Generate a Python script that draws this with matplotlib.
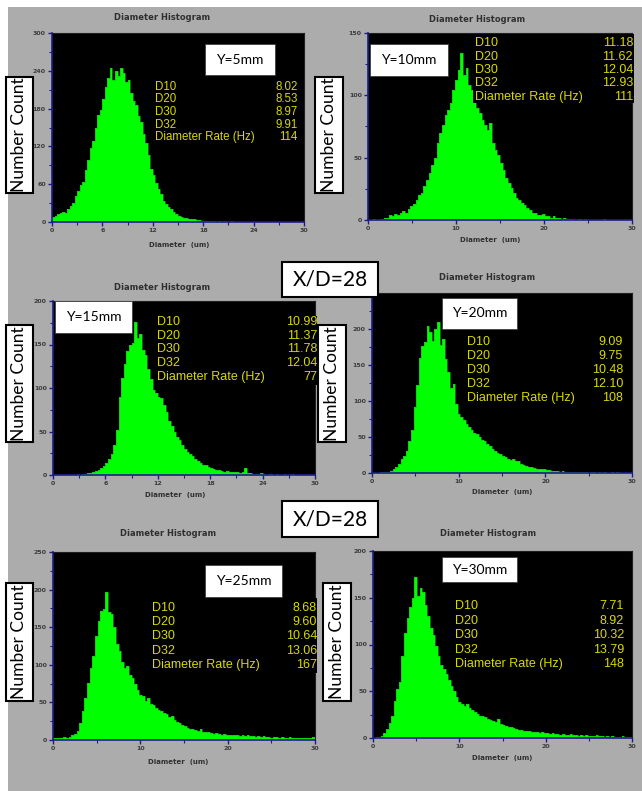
import numpy as np
import matplotlib
matplotlib.use("Agg")
import matplotlib.pyplot as plt
from matplotlib.patches import Rectangle

W, H = 642, 791          # canvas size in pixels (dpi 100)
BIN = 0.3                # diameter bin width (um)
edges = np.arange(0, 30 + BIN / 2, BIN)

# ---- droplet diameter counts per bin, 0..30 um, one list per probe position ----
y5mm = [8, 10, 12, 14, 16, 15, 20, 26, 30, 42,
        50, 58, 64, 82, 98, 118, 128, 150, 170, 178,
        196, 215, 228, 245, 226, 240, 232, 244, 236, 222,
        226, 204, 192, 186, 168, 158, 140, 126, 106, 84,
        74, 62, 52, 44, 34, 28, 24, 20, 16, 12,
        10, 8, 7, 6, 5, 4, 4, 3, 3, 2,
        2, 1, 2, 1, 1, 0, 1, 0, 1, 0,
        0, 1, 0, 0, 0, 0, 0, 0, 0, 0,
        0, 0, 0, 0, 0, 0, 0, 0, 0, 0,
        0, 0, 0, 0, 0, 0, 0, 0, 0, 0]
y10mm = [0, 0, 1, 0, 1, 1, 2, 2, 4, 3,
         5, 4, 6, 7, 6, 9, 11, 13, 16, 20,
         22, 27, 32, 38, 44, 50, 62, 70, 76, 84,
         88, 94, 104, 112, 120, 134, 116, 122, 108, 104,
         96, 90, 86, 80, 76, 72, 78, 62, 56, 52,
         46, 40, 34, 30, 26, 22, 18, 16, 14, 12,
         10, 8, 6, 6, 4, 4, 5, 3, 3, 2,
         3, 2, 2, 1, 2, 1, 1, 1, 0, 1,
         1, 0, 1, 0, 0, 0, 0, 0, 0, 1,
         0, 0, 0, 0, 0, 0, 0, 0, 0, 0]
y15mm = [0, 0, 0, 0, 0, 0, 0, 0, 0, 1,
         0, 1, 1, 2, 2, 3, 5, 6, 8, 10,
         14, 18, 24, 34, 52, 90, 112, 128, 142, 150,
         152, 176, 158, 162, 144, 138, 122, 110, 98, 94,
         90, 88, 80, 72, 62, 56, 50, 44, 40, 34,
         30, 26, 24, 22, 18, 16, 14, 12, 11, 9,
         8, 7, 6, 6, 5, 4, 5, 4, 3, 3,
         3, 2, 3, 8, 2, 2, 1, 1, 1, 2,
         1, 0, 1, 1, 0, 1, 0, 0, 1, 0,
         0, 1, 0, 0, 0, 0, 0, 0, 0, 0]
y20mm = [0, 0, 0, 1, 2, 1, 2, 3, 5, 8,
         12, 20, 24, 30, 44, 60, 92, 122, 160, 176,
         182, 204, 196, 184, 200, 210, 178, 186, 158, 140,
         118, 124, 96, 82, 78, 74, 68, 64, 60, 56,
         54, 50, 46, 44, 40, 38, 34, 30, 28, 26,
         24, 22, 20, 18, 19, 16, 17, 13, 11, 10,
         8, 8, 7, 6, 6, 5, 6, 4, 4, 3,
         3, 3, 2, 3, 2, 2, 2, 1, 2, 1,
         1, 1, 1, 0, 1, 1, 0, 1, 0, 1,
         0, 0, 1, 0, 1, 0, 0, 0, 0, 0]
y25mm = [2, 3, 2, 3, 4, 3, 4, 6, 8, 12,
         22, 38, 56, 76, 96, 112, 138, 158, 172, 174,
         197, 170, 168, 150, 128, 118, 104, 96, 98, 86,
         82, 74, 66, 60, 58, 52, 56, 48, 46, 42,
         40, 38, 36, 34, 30, 32, 26, 24, 22, 20,
         18, 16, 15, 14, 13, 12, 14, 11, 10, 10,
         9, 8, 9, 8, 7, 8, 7, 6, 7, 6,
         6, 5, 6, 5, 6, 5, 5, 4, 5, 4,
         5, 4, 4, 3, 4, 4, 3, 4, 3, 3,
         4, 3, 3, 2, 3, 3, 2, 3, 3, 4]
y30mm = [0, 1, 1, 2, 5, 10, 16, 24, 40, 52,
         60, 88, 112, 128, 140, 150, 172, 152, 160, 156,
         142, 130, 118, 110, 98, 88, 78, 74, 68, 62,
         56, 50, 44, 38, 36, 34, 36, 32, 30, 28,
         26, 24, 23, 22, 20, 19, 18, 17, 20, 15,
         14, 13, 12, 12, 11, 10, 9, 9, 8, 7,
         7, 6, 6, 6, 5, 6, 5, 5, 4, 5,
         4, 4, 3, 4, 3, 3, 4, 3, 3, 2,
         3, 2, 3, 2, 2, 2, 3, 2, 2, 1,
         2, 1, 2, 1, 1, 1, 2, 1, 1, 1]

positions = ["Y=5mm", "Y=10mm", "Y=15mm", "Y=20mm", "Y=25mm", "Y=30mm"]
counts = [y5mm, y10mm, y15mm, y20mm, y25mm, y30mm]
stat_names = ["D10", "D20", "D30", "D32", "Diameter Rate (Hz)"]
stat_values = [["8.02", "8.53", "8.97", "9.91", "114"],
               ["11.18", "11.62", "12.04", "12.93", "111"],
               ["10.99", "11.37", "11.78", "12.04", "77"],
               ["9.09", "9.75", "10.48", "12.10", "108"],
               ["8.68", "9.60", "10.64", "13.06", "167"],
               ["7.71", "8.92", "10.32", "13.79", "148"]]
y_max = [300, 150, 200, 250, 250, 200]
y_step = [60, 50, 50, 50, 50, 50]
x_step = [6, 10, 6, 10, 10, 10]
station_label = "X/D=28"

# ---- layout, all in pixels from the top-left corner ----
axes_px = [(52, 33, 304, 222), (368, 33, 632, 220),
           (53, 301, 315, 475), (372, 293, 632, 473),
           (53, 552, 315, 740), (373, 551, 632, 738)]
title_px = [(162, 18), (477, 20), (162, 287), (487, 277), (168, 534), (488, 534)]
xlabel_px = [(179, 245), (490, 240), (175, 495), (502, 492), (178, 762), (502, 758)]
ybox_px = [(205, 44, 275, 75), (370, 44, 448, 76), (55, 301, 132, 333),
           (442, 298, 517, 329), (205, 565, 282, 597), (442, 557, 517, 582)]
ncount_px = [(6, 77, 33, 193), (315, 77, 343, 193), (6, 325, 33, 442),
             (318, 325, 346, 442), (6, 583, 33, 701), (323, 583, 351, 701)]
# stats block: label x, value right x, first row y, row step, black backing box
stats_px = [(155, 298, 87, 12.5, (153, 81, 300, 143)),
            (475, 633, 43, 13.5, (473, 34, 634, 103)),
            (157, 317, 322, 13.7, (154, 316, 317, 385)),
            (467, 623, 342, 14.0, (465, 336, 626, 404)),
            (152, 317, 608, 14.2, (148, 598, 317, 673)),
            (455, 624, 606, 14.6, (452, 600, 627, 672))]
xd_px = [(282, 262, 378, 297), (282, 501, 378, 537)]

GRAY = "#acacac"
GREEN = "#00ff00"
NAVY = "#1c1c8c"
YELLOW = "#d9d900"
TICK_GRAY = "#3c3c3c"


def fx(x):
    return x / W


def fy(y):
    return 1 - y / H


def rect(x0, y0, x1, y1, **kw):
    r = Rectangle((fx(x0), fy(y1)), (x1 - x0) / W, (y1 - y0) / H,
                  transform=fig.transFigure, **kw)
    fig.add_artist(r)
    return r


fig = plt.figure(figsize=(W / 100, H / 100), dpi=100, facecolor="white")
rect(8, 7, W, H, facecolor=GRAY, edgecolor="none", zorder=-5)

for i in range(6):
    x0, y0, x1, y1 = axes_px[i]
    ax = fig.add_axes([fx(x0), fy(y1), (x1 - x0) / W, (y1 - y0) / H])
    ax.set_facecolor("black")
    ax.bar(edges[:-1], counts[i], width=BIN, align="edge", color=GREEN, linewidth=0)
    ax.stairs(counts[i], edges, color="#14b814", lw=0.4)
    ax.set_xlim(0, 30)
    ax.set_ylim(0, y_max[i])
    ax.set_xticks(np.arange(0, 31, x_step[i]))
    ax.set_xticks(np.arange(x_step[i] / 2, 30, x_step[i]), minor=True)
    ax.set_yticks(np.arange(0, y_max[i] + 1, y_step[i]))
    ax.set_yticks(np.arange(y_step[i] / 2, y_max[i], y_step[i]), minor=True)
    ax.tick_params(which="major", direction="out", length=3, width=1, color=NAVY,
                   labelsize=4.5, labelcolor=TICK_GRAY, pad=1.5)
    ax.tick_params(which="minor", direction="out", length=2, width=0.8, color=NAVY)
    for lab in ax.get_xticklabels() + ax.get_yticklabels():
        lab.set_fontweight("bold")
    for side in ("left", "bottom"):
        ax.spines[side].set_color(NAVY)
        ax.spines[side].set_linewidth(1.2)
    for side in ("top", "right"):
        ax.spines[side].set_color("#202020")
        ax.spines[side].set_linewidth(0.8)

    tx, ty = title_px[i]
    fig.text(fx(tx), fy(ty), "Diameter Histogram", ha="center", va="center",
             fontsize=6, fontweight="bold", color="#303030", family="DejaVu Sans")
    lx, ly = xlabel_px[i]
    fig.text(fx(lx), fy(ly), "Diameter  (um)", ha="center", va="center",
             fontsize=5, fontweight="bold", color="#303030", family="DejaVu Sans")

    # statistics block in yellow on a black backing
    sx, sr, sy, step, bg = stats_px[i]
    rect(*bg, facecolor="black", edgecolor="none", zorder=1.5)
    fs = 8.3 if i == 0 else 9
    for k, (name, val) in enumerate(zip(stat_names, stat_values[i])):
        yy = sy + k * step
        fig.text(fx(sx), fy(yy), name, ha="left", va="center", fontsize=fs,
                 color=YELLOW, family="Liberation Sans", zorder=3)
        fig.text(fx(sr), fy(yy), val, ha="right", va="center", fontsize=fs,
                 color=YELLOW, family="Liberation Sans", zorder=3)

    # position tag
    bx0, by0, bx1, by1 = ybox_px[i]
    rect(bx0, by0, bx1, by1, facecolor="white", edgecolor="#404040", lw=0.6, zorder=2)
    fig.text(fx((bx0 + bx1) / 2), fy((by0 + by1) / 2), positions[i], ha="center",
             va="center", fontsize=10, color="black", family="Lato", zorder=3)

    # y-axis caption box
    nx0, ny0, nx1, ny1 = ncount_px[i]
    rect(nx0, ny0, nx1, ny1, facecolor="white", edgecolor="black", lw=1.5, zorder=2)
    fig.text(fx((nx0 + nx1) / 2), fy((ny0 + ny1) / 2), "Number Count", rotation=90,
             ha="center", va="center", fontsize=12.5, color="black", family="Lato",
             zorder=3)

for x0, y0, x1, y1 in xd_px:
    rect(x0, y0, x1, y1, facecolor="white", edgecolor="black", lw=1.5, zorder=4)
    fig.text(fx((x0 + x1) / 2), fy((y0 + y1) / 2), station_label, ha="center",
             va="center", fontsize=15, color="black", family="Lato", zorder=5)

fig.savefig("out.png", dpi=100, facecolor=fig.get_facecolor())
